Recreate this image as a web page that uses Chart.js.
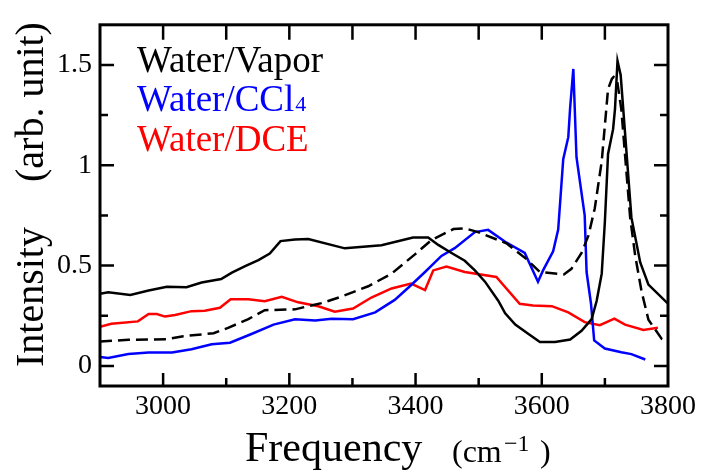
<!DOCTYPE html>
<html>
<head>
<meta charset="utf-8">
<script src="https://cdn.jsdelivr.net/npm/chart.js@4.4.0/dist/chart.umd.min.js"></script>
<style>
  html, body { margin: 0; padding: 0; background: #fff; }
  #wrap { width: 707px; height: 473px; }
</style>
</head>
<body>
<div id="wrap"><canvas id="spectrum"></canvas></div>
<script>
// Water/Vapor (solid black)
const vaporX = [2900, 2913, 2948, 2977, 3006, 3037, 3061, 3092, 3109, 3130, 3151, 3169, 3186, 3209, 3230,
    3288, 3346, 3396, 3420, 3436, 3457, 3478, 3494, 3510, 3531, 3542, 3558, 3579, 3597, 3621, 3645,
    3663, 3679, 3687, 3695, 3700, 3705, 3713, 3716, 3720, 3725, 3742, 3756, 3769, 3800];
const vaporY = [0.36, 0.367, 0.354, 0.376, 0.394, 0.392, 0.416, 0.433, 0.465, 0.497, 0.527, 0.56, 0.622, 0.63, 0.632,
    0.586, 0.601, 0.64, 0.64, 0.603, 0.563, 0.524, 0.476, 0.42, 0.325, 0.262, 0.206, 0.159, 0.119, 0.119, 0.132,
    0.175, 0.233, 0.325, 0.46, 0.72, 1.056, 1.18, 1.28, 1.52, 1.45, 0.74, 0.516, 0.405, 0.31];

// unlabeled dashed black curve
const dashX = [2900, 2945, 3006, 3032, 3080, 3103, 3135, 3161, 3209, 3225, 3251, 3283, 3325, 3362, 3399,
    3425, 3460, 3478, 3499, 3544, 3576, 3597, 3635, 3647, 3663, 3674, 3684, 3695, 3705, 3711, 3714,
    3719, 3726, 3740, 3748, 3758, 3769, 3790, 3800];
const dashY = [0.122, 0.13, 0.133, 0.148, 0.163, 0.19, 0.233, 0.278, 0.282, 0.294, 0.313, 0.346, 0.397, 0.46, 0.556,
    0.627, 0.682, 0.686, 0.667, 0.611, 0.532, 0.468, 0.456, 0.484, 0.563, 0.65, 0.786, 1.02, 1.38, 1.43, 1.44,
    1.43, 1.28, 0.74, 0.55, 0.373, 0.23, 0.135, 0.12];

// Water/CCl4 (blue)
const cclX = [2900, 2913, 2945, 2977, 3014, 3045, 3077, 3106, 3140, 3175, 3209, 3241, 3267, 3301, 3336,
    3367, 3391, 3415, 3441, 3462, 3494, 3515, 3542, 3573, 3594, 3602, 3618, 3626, 3634, 3642, 3645,
    3650, 3655, 3668, 3671, 3678, 3683, 3700, 3726, 3742, 3764];
const cclY = [0.045, 0.04, 0.059, 0.067, 0.067, 0.083, 0.108, 0.116, 0.159, 0.206, 0.233, 0.227, 0.235, 0.233, 0.267,
    0.329, 0.397, 0.468, 0.548, 0.587, 0.667, 0.678, 0.619, 0.563, 0.42, 0.476, 0.571, 0.68, 1.03, 1.14, 1.29,
    1.48, 1.04, 0.75, 0.468, 0.31, 0.127, 0.087, 0.068, 0.059, 0.032];

// Water/DCE (red)
const dceX = [2900, 2918, 2960, 2977, 2990, 3003, 3019, 3045, 3066, 3090, 3107, 3135, 3161, 3188, 3214,
    3246, 3272, 3301, 3330, 3362, 3393, 3415, 3428, 3449, 3478, 3528, 3565, 3586, 3616, 3642, 3668,
    3692, 3715, 3732, 3761, 3784];
const dceY = [0.195, 0.21, 0.222, 0.259, 0.259, 0.246, 0.254, 0.273, 0.275, 0.29, 0.332, 0.332, 0.322, 0.344, 0.317,
    0.297, 0.27, 0.286, 0.341, 0.386, 0.41, 0.378, 0.476, 0.495, 0.468, 0.443, 0.31, 0.301, 0.298, 0.267, 0.218,
    0.203, 0.236, 0.206, 0.179, 0.19];

const xTicks = [2900, 3000, 3100, 3200, 3300, 3400, 3500, 3600, 3700, 3800];
const yTicks = [0, 0.25, 0.5, 0.75, 1, 1.25, 1.5];

const serif = '"Liberation Serif"';

function pts(xs, ys) {
    return xs.map((x, i) => ({ x: x, y: ys[i] }));
}

// frame, inward ticks, axis titles and the in-plot legend
const decorations = {
    id: 'decorations',
    afterDraw(chart) {
        const ctx = chart.ctx;
        const a = chart.chartArea;
        const xs = chart.scales.x, ys = chart.scales.y;
        ctx.save();
        ctx.strokeStyle = '#000';
        ctx.lineWidth = 2.5;
        xTicks.forEach(v => {
            const px = xs.getPixelForValue(v);
            if (px <= a.left + 1 || px >= a.right - 1) return;
            const len = (v % 200 === 0) ? 13 : 8;
            ctx.beginPath();
            ctx.moveTo(px, a.bottom); ctx.lineTo(px, a.bottom - len);
            ctx.moveTo(px, a.top); ctx.lineTo(px, a.top + 15);
            ctx.stroke();
        });
        yTicks.forEach(v => {
            const py = ys.getPixelForValue(v);
            const len = (Math.round(v * 100) % 50 === 0) ? 14 : 8;
            ctx.beginPath();
            ctx.moveTo(a.left, py); ctx.lineTo(a.left + len, py);
            ctx.moveTo(a.right, py); ctx.lineTo(a.right - len, py);
            ctx.stroke();
        });
        ctx.lineWidth = 3;
        ctx.strokeRect(a.left, a.top, a.right - a.left, a.bottom - a.top);

        // x title
        ctx.fillStyle = '#000';
        ctx.textBaseline = 'alphabetic';
        ctx.textAlign = 'left';
        ctx.font = '42px ' + serif;
        ctx.fillText('Frequency', 245, 461);
        ctx.font = '32px ' + serif;
        ctx.fillText('(cm', 452, 462);
        ctx.font = '24px ' + serif;
        ctx.fillText('\u22121', 504, 451);
        ctx.font = '32px ' + serif;
        ctx.fillText(')', 540, 462);

        // y title
        ctx.font = '40px ' + serif;
        ctx.save();
        ctx.translate(43, 367);
        ctx.rotate(-Math.PI / 2);
        ctx.fillText('Intensity', 0, 0);
        ctx.restore();
        ctx.save();
        ctx.translate(43, 182);
        ctx.rotate(-Math.PI / 2);
        ctx.fillText('(arb. unit)', 0, 0);
        ctx.restore();

        // legend
        ctx.font = '37px ' + serif;
        ctx.fillStyle = '#000';
        ctx.fillText('Water/Vapor', 137, 72);
        ctx.fillStyle = '#0000ff';
        ctx.fillText('Water/CCl', 137, 111);
        const w = ctx.measureText('Water/CCl').width;
        ctx.font = '22px ' + serif;
        ctx.fillText('4', 137 + w + 1, 111);
        ctx.font = '37px ' + serif;
        ctx.fillStyle = '#ff0000';
        ctx.fillText('Water/DCE', 137, 151);
        ctx.restore();
    }
};

new Chart(document.getElementById('spectrum'), {
    type: 'scatter',
    data: {
        datasets: [
            { label: 'Water/Vapor', data: pts(vaporX, vaporY), borderColor: '#000000', order: 1 },
            { label: '', data: pts(dashX, dashY), borderColor: '#000000', borderDash: [12, 6], order: 2 },
            { label: 'Water/CCl4', data: pts(cclX, cclY), borderColor: '#0000ff', order: 3 },
            { label: 'Water/DCE', data: pts(dceX, dceY), borderColor: '#ff0000', order: 4 }
        ]
    },
    options: {
        responsive: true,
        maintainAspectRatio: false,
        animation: false,
        showLine: true,
        elements: {
            point: { radius: 0, hoverRadius: 0 },
            line: { borderWidth: 2.5, tension: 0, fill: false }
        },
        layout: { padding: { left: 0, right: 39, top: 8, bottom: 0 } },
        scales: {
            x: {
                type: 'linear',
                min: 2900,
                max: 3800,
                afterBuildTicks: s => { s.ticks = xTicks.map(v => ({ value: v })); },
                afterFit: s => { s.height = 87; },
                grid: { display: false, drawTicks: false },
                border: { display: false },
                ticks: {
                    padding: 4,
                    color: '#000',
                    font: { family: serif, size: 28 },
                    maxRotation: 0,
                    autoSkip: false,
                    callback: v => (v % 200 === 0 && v > 2900) ? String(v) : ''
                }
            },
            y: {
                min: -0.1,
                max: 1.7,
                afterBuildTicks: s => { s.ticks = yTicks.map(v => ({ value: v })); },
                afterFit: s => { s.width = 100; },
                grid: { display: false, drawTicks: false },
                border: { display: false },
                ticks: {
                    padding: 8,
                    color: '#000',
                    font: { family: serif, size: 28 },
                    autoSkip: false,
                    callback: v => (Math.round(v * 100) % 50 === 0) ? String(v) : ''
                }
            }
        },
        plugins: {
            legend: { display: false },
            tooltip: { enabled: false }
        }
    },
    plugins: [decorations]
});
</script>
</body>
</html>
